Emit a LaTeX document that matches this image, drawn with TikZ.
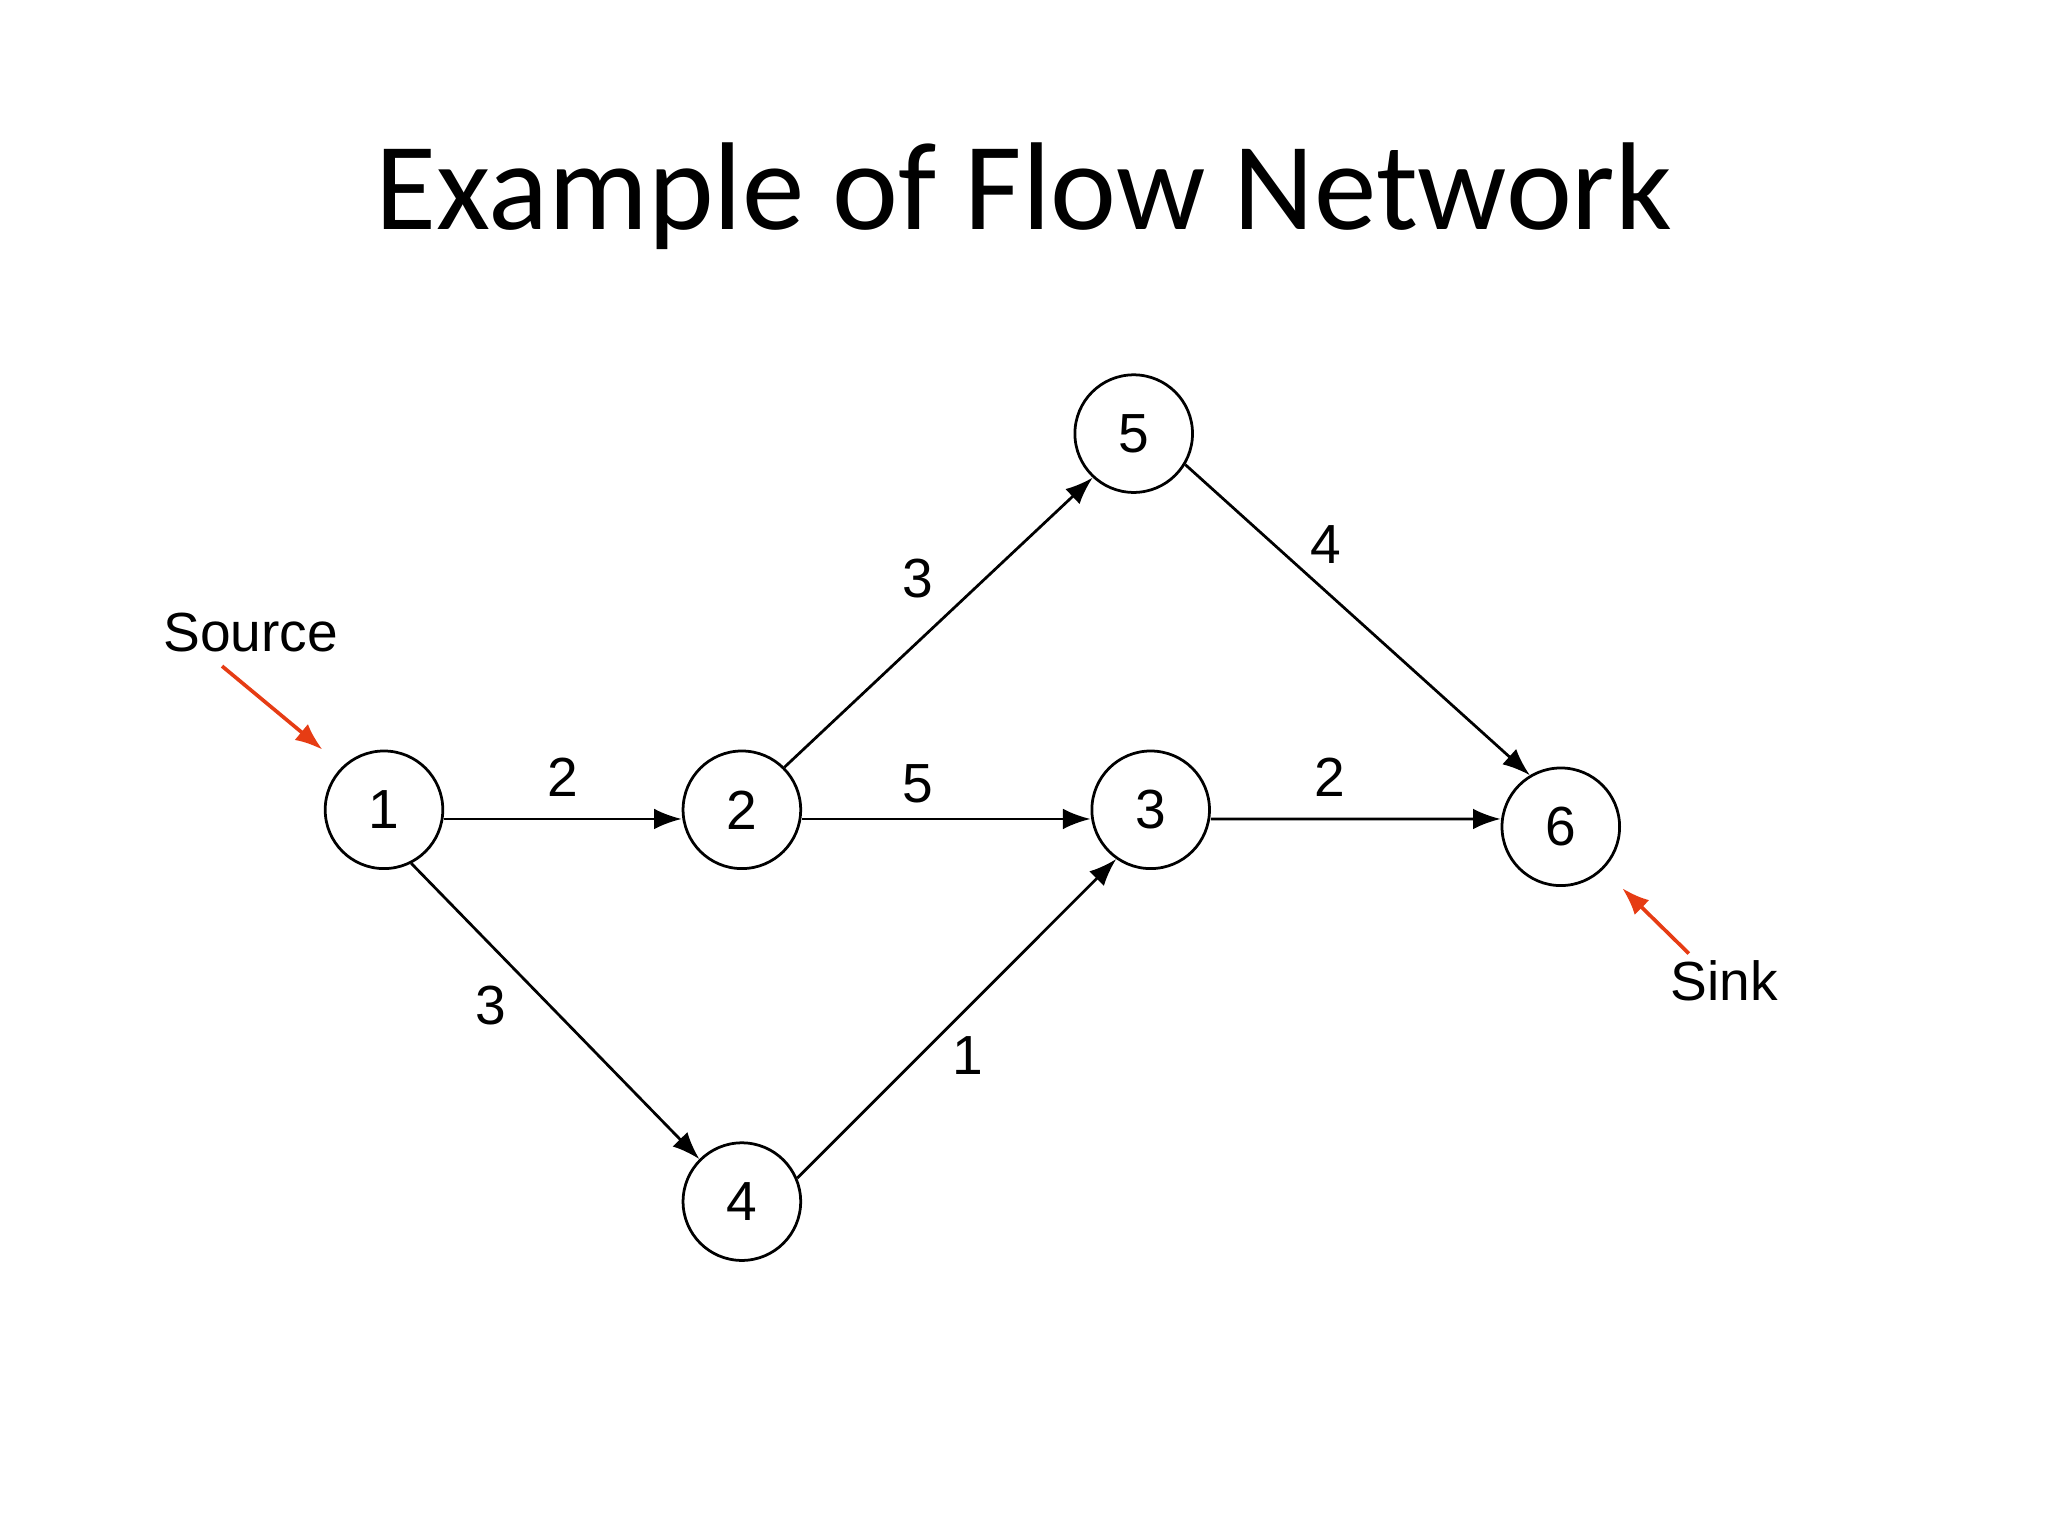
\documentclass[tikz,border=0pt]{standalone}
\usepackage{fontspec}
\setmainfont{Liberation Sans}
\newfontfamily\titlefont{Carlito}
\usetikzlibrary{arrows.meta}
\begin{document}
\begin{tikzpicture}[x=0.01cm,y=-0.01cm,
  v/.style={circle,draw,line width=0.6pt,minimum size=0.9cm,inner sep=0pt,font=\fontsize{12}{14}\selectfont},
  e/.style={-{Latex[length=6pt,width=4.5pt]},line width=0.6pt},
  lab/.style={font=\fontsize{12}{14}\selectfont},
  red/.style={-{Latex[length=6pt,width=4.5pt]},line width=0.8pt,draw={rgb,255:red,230;green,60;blue,20}}]
\useasboundingbox (0,0) rectangle (1568,1176);
\node[font=\titlefont\fontsize{27.2}{32}\selectfont] (t) at (784,150) {Example of Flow Network};
\node[v] (n1) at (294,620) {1};
\node[v] (n2) at (568,620) {2};
\node[v] (n3) at (881,620) {3};
\node[v] (n4) at (568,920) {4};
\node[v] (n5) at (868,332) {5};
\node[v] (n6) at (1195,633) {6};
\draw[e] ([yshift=-2pt]n1.east) -- ([yshift=-2pt]n2.west);
\draw[e] ([yshift=-2pt]n2.east) -- ([yshift=-2pt]n3.west);
\draw[e] ([yshift=-2pt]n3.east) -- ([yshift=1.7pt]n6.west);
\draw[e] (n2.45) -- (n5.-133);
\draw[e] (n5.-31) -- (n6.121);
\draw[e] (n1.-63) -- (n4.135);
\draw[e] (n4.23) -- (n3.-125);
\node[lab] (l12) at (431,595) {2};
\node[lab] (l23) at (703,600) {5};
\node[lab] (l36) at (1018,595) {2};
\node[lab] (l25) at (703,443) {3};
\node[lab] (l56) at (1015,417) {4};
\node[lab] (l14) at (376,770) {3};
\node[lab] (l43) at (741,808) {1};
\node[lab] (src) at (192,484) {Source};
\node[lab] (snk) at (1320,751) {Sink};
\coordinate (s0) at (170,510);
\coordinate (s1) at (247,574);
\coordinate (k0) at (1293,730);
\coordinate (k1) at (1242,680);
\draw[red] (s0) -- (s1);
\draw[red] (k0) -- (k1);
\end{tikzpicture}
\end{document}
